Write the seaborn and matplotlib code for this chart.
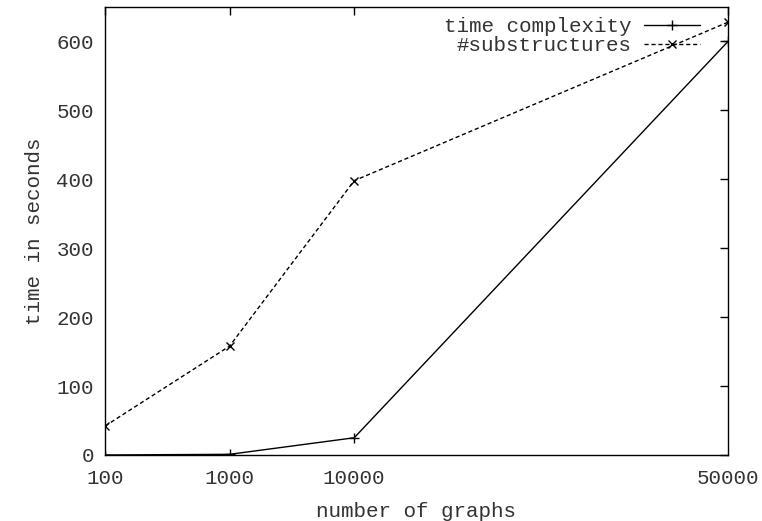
import numpy as np
import pandas as pd
import matplotlib
matplotlib.use('Agg')
import matplotlib.pyplot as plt
import seaborn as sns

# data
graph_counts = ['100', '1000', '10000', '50000']
x_positions = [0, 1, 2, 5]  # axis spacing used in the original plot
time_complexity = [0, 1, 25, 600]
substructures = [42, 158, 398, 628]

sns.set_style('white')
plt.rcParams['font.family'] = ['Liberation Mono', 'DejaVu Sans Mono']
plt.rcParams['font.size'] = 15

df = pd.DataFrame({
    'x': x_positions * 2,
    'value': time_complexity + substructures,
    'series': ['time complexity'] * 4 + ['#substructures'] * 4,
})

fig = plt.figure(figsize=(7.62, 5.21), dpi=100)
ax = fig.add_axes([105 / 762, 66 / 521, 623 / 762, 448 / 521])

sns.lineplot(data=df[df.series == 'time complexity'], x='x', y='value',
             ax=ax, color='black', lw=1.0, marker='+', markersize=7,
             markeredgewidth=1.0, markeredgecolor='black',
             label='time complexity')
sns.lineplot(data=df[df.series == '#substructures'], x='x', y='value',
             ax=ax, color='black', lw=1.0, linestyle=(0, (3, 2)), marker='x',
             markersize=6, markeredgewidth=1.0, markeredgecolor='black',
             label='#substructures')

ax.set_xlim(x_positions[0], x_positions[-1])
ax.set_ylim(0, 650)
ax.set_xticks(x_positions)
ax.set_xticklabels(graph_counts)
ax.set_yticks(np.arange(0, 601, 100))
ax.tick_params(direction='in', length=6, width=1, top=True, right=True,
               colors='black', labelcolor='#333333', labelsize=15)
ax.tick_params(axis='x', pad=10)
ax.tick_params(axis='y', pad=8)
for s in ax.spines.values():
    s.set_color('black')
    s.set_linewidth(1.0)

ax.set_xlabel('number of graphs', color='#333333', fontsize=15, labelpad=10)
ax.set_ylabel('time in seconds', color='#333333', fontsize=15, labelpad=9)

leg = ax.legend(loc='upper right', frameon=False, markerfirst=False,
                bbox_to_anchor=(1 - 28 / 623, 1 - 10 / 448),
                handlelength=2.7, fontsize=15, borderaxespad=0.0,
                borderpad=0.0, labelspacing=0.0, handletextpad=0.6)
for t in leg.get_texts():
    t.set_color('#333333')

fig.savefig('out.png', dpi=100)
